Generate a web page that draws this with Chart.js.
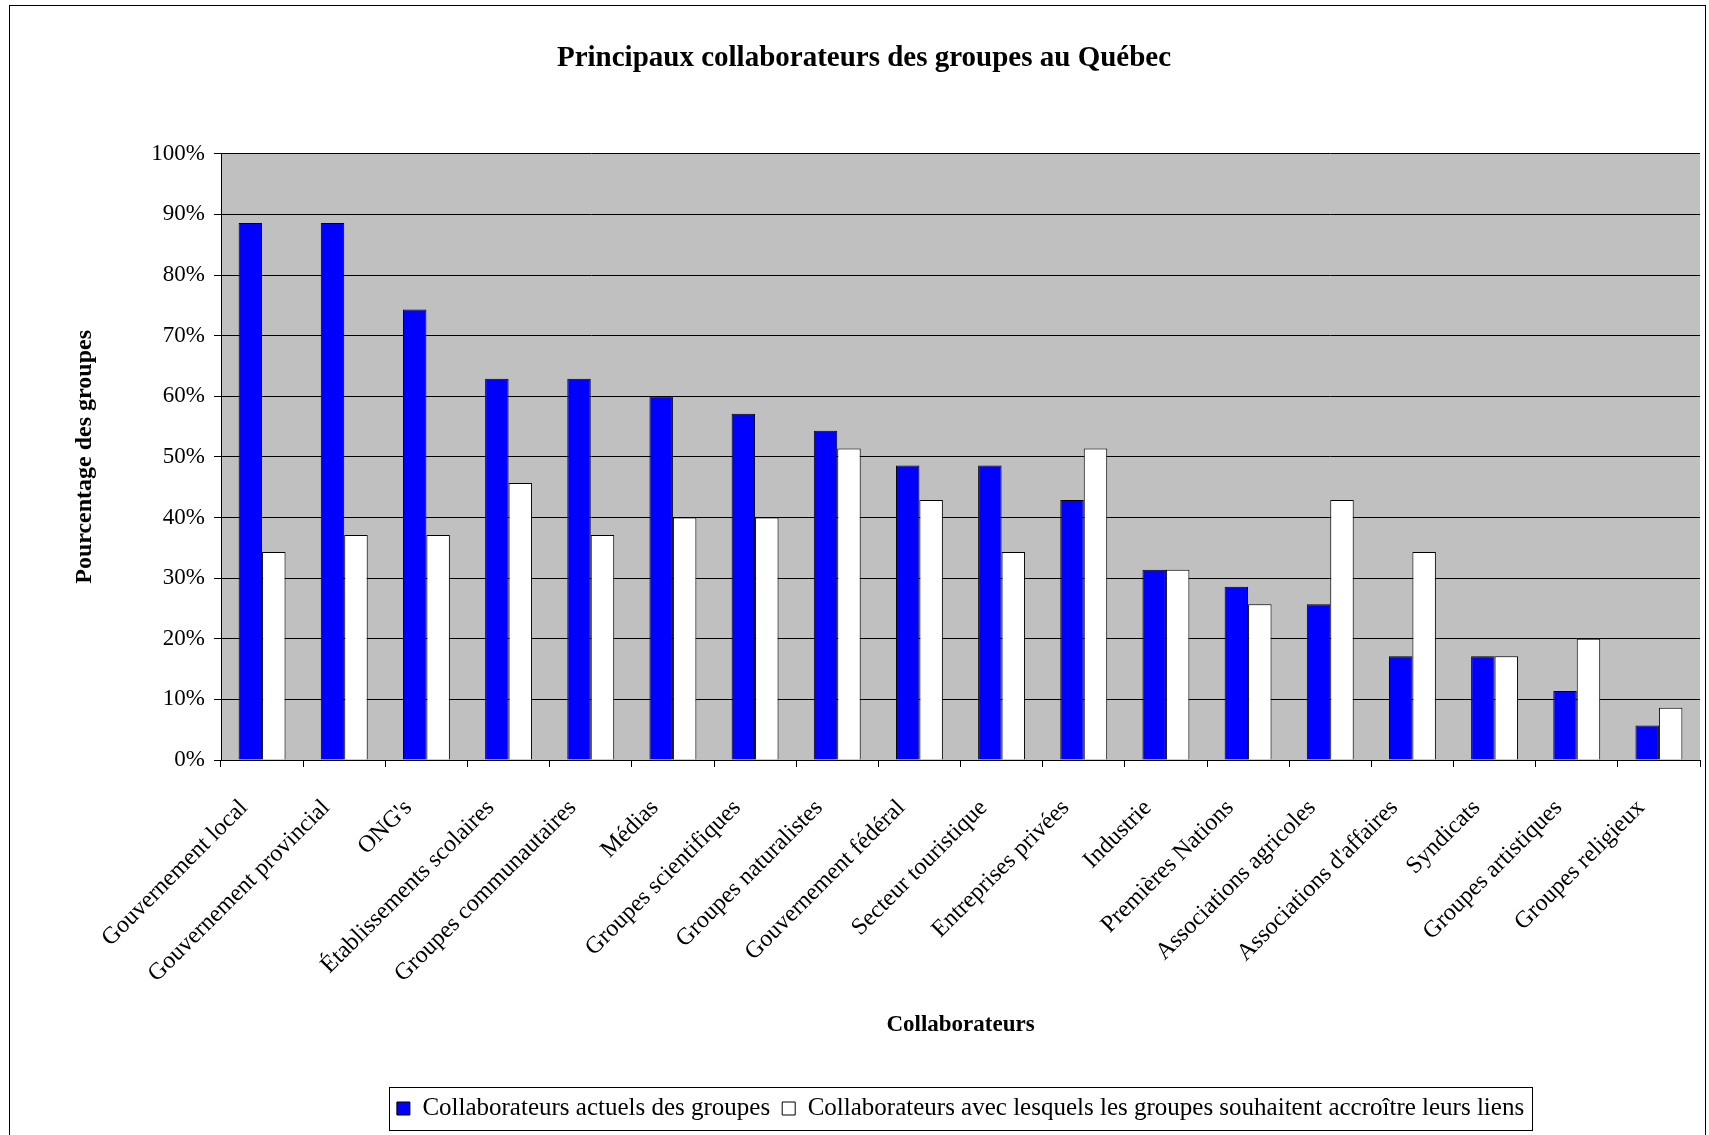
<!DOCTYPE html>
<html>
<head>
<meta charset="utf-8">
<script src="https://cdn.jsdelivr.net/npm/chart.js@4.4.1/dist/chart.umd.min.js"></script>
<style>
    html, body { margin: 0; padding: 0; background: #fff; }
    #wrap { position: relative; width: 1709px; height: 1135px; overflow: hidden; }
    #frame { position: absolute; left: 9px; top: 5px; width: 1697px; height: 1140px; border: 1px solid #000; box-sizing: border-box; pointer-events: none; }
</style>
</head>
<body>
<div id="wrap">
    <canvas id="chart" width="1709" height="1135"></canvas>
    <div id="frame"></div>
</div>
<script>
(function() {
    'use strict';

    var categories = [
        'Gouvernement local', 'Gouvernement provincial', "ONG's", 'Établissements scolaires',
        'Groupes communautaires', 'Médias', 'Groupes scientifiques', 'Groupes naturalistes',
        'Gouvernement fédéral', 'Secteur touristique', 'Entreprises privées', 'Industrie',
        'Premières Nations', 'Associations agricoles', "Associations d'affaires", 'Syndicats',
        'Groupes artistiques', 'Groupes religieux'
    ];
    var actuels = [88.6, 88.6, 74.3, 62.9, 62.9, 60.0, 57.1, 54.3, 48.6, 48.6, 42.9, 31.4, 28.6, 25.7, 17.1, 17.1, 11.4, 5.7];
    var souhaites = [34.3, 37.1, 37.1, 45.7, 37.1, 40.0, 40.0, 51.4, 42.9, 34.3, 51.4, 31.4, 25.7, 42.9, 34.3, 17.1, 20.0, 8.6];
    var yTicks = [0, 10, 20, 30, 40, 50, 60, 70, 80, 90, 100];

    var serif = "'Liberation Serif', 'DejaVu Serif', serif";

    var plotBackground = {
        id: 'plotBackground',
        beforeDraw: function(chart) {
            var a = chart.chartArea;
            var ctx = chart.ctx;
            ctx.save();
            ctx.fillStyle = '#c0c0c0';
            ctx.fillRect(a.left, a.top, a.right - a.left, a.bottom - a.top);
            ctx.restore();
        }
    };

    // border round the legend items
    var legendFrame = {
        id: 'legendFrame',
        afterDraw: function(chart) {
            var boxes = chart.legend && chart.legend.legendHitBoxes;
            if (!boxes || !boxes.length) return;
            var first = boxes[0], last = boxes[boxes.length - 1];
            var left = first.left - 8;
            var right = last.left + last.width + 8;
            var top = first.top - 9;
            var bottom = first.top + first.height + 9;
            var ctx = chart.ctx;
            ctx.save();
            ctx.strokeStyle = '#000';
            ctx.lineWidth = 1;
            ctx.strokeRect(Math.round(left) + 0.5, Math.round(top) + 0.5, Math.round(right - left), Math.round(bottom - top));
            ctx.restore();
        }
    };

    new Chart(document.getElementById('chart'), {
        type: 'bar',
        data: {
            labels: categories,
            datasets: [{
                label: 'Collaborateurs actuels des groupes',
                data: actuels,
                backgroundColor: '#0000ff',
                borderColor: '#000',
                borderWidth: 1,
                categoryPercentage: 0.571,
                barPercentage: 1
            }, {
                label: 'Collaborateurs avec lesquels les groupes souhaitent accroître leurs liens',
                data: souhaites,
                backgroundColor: '#ffffff',
                borderColor: '#000',
                borderWidth: 1,
                categoryPercentage: 0.571,
                barPercentage: 1
            }]
        },
        options: {
            responsive: false,
            devicePixelRatio: 1,
            animation: false,
            layout: { padding: { left: 28, right: 9, top: 0, bottom: 4 } },
            plugins: {
                title: {
                    display: true,
                    text: 'Principaux collaborateurs des groupes au Québec',
                    color: '#000',
                    font: { family: serif, size: 29, weight: 'bold' },
                    padding: { top: 41, bottom: 78 }
                },
                legend: {
                    position: 'bottom',
                    fullSize: false,
                    labels: {
                        color: '#000',
                        font: { family: serif, size: 25 },
                        boxWidth: 13,
                        boxHeight: 13,
                        padding: 12
                    }
                },
                tooltip: { enabled: false }
            },
            scales: {
                x: {
                    grid: { drawOnChartArea: false, drawTicks: true, tickLength: 7, color: '#000', offset: true },
                    border: { display: true, color: '#000', width: 1 },
                    ticks: {
                        color: '#000',
                        font: { family: serif, size: 24 },
                        minRotation: 45,
                        maxRotation: 45,
                        autoSkip: false,
                        padding: 27,
                        labelOffset: -18
                    },
                    title: {
                        display: true,
                        text: 'Collaborateurs',
                        color: '#000',
                        font: { family: serif, size: 23, weight: 'bold' },
                        padding: { top: 0, bottom: 45 }
                    },
                    afterFit: function(scale) {
                        scale.height = 324;
                    }
                },
                y: {
                    min: 0,
                    max: 100,
                    grid: { color: '#000', tickLength: 7 },
                    border: { display: true, color: '#000', width: 1 },
                    afterBuildTicks: function(scale) {
                        scale.ticks = yTicks.map(function(v) { return { value: v }; });
                    },
                    ticks: {
                        color: '#000',
                        font: { family: serif, size: 23 },
                        padding: 9,
                        callback: function(value) { return value + '%'; }
                    },
                    title: {
                        display: true,
                        text: 'Pourcentage des groupes',
                        color: '#000',
                        font: { family: serif, size: 24, weight: 'bold' },
                        padding: { top: 42, bottom: 0 }
                    },
                    afterFit: function(scale) {
                        scale.width = 193;
                    }
                }
            }
        },
        plugins: [plotBackground, legendFrame]
    });
})();
</script>
</body>
</html>
